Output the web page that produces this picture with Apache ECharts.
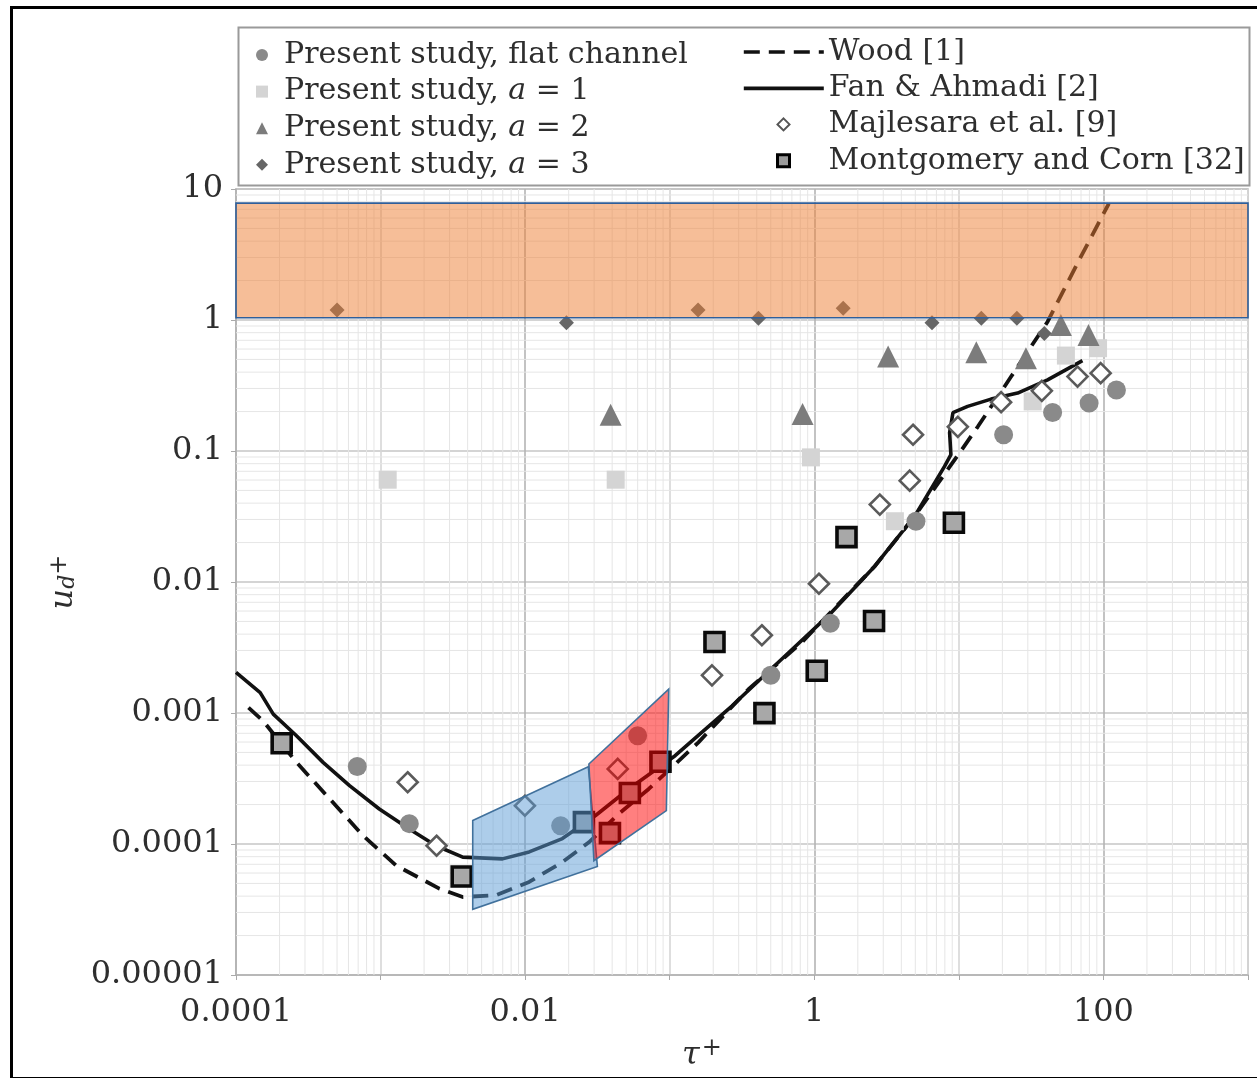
<!DOCTYPE html>
<html>
<head>
<meta charset="utf-8">
<script src="https://cdn.jsdelivr.net/npm/echarts@6.0.0/dist/echarts.min.js"></script>
<style>
html,body{margin:0;padding:0;background:#fff;}
#chart{width:1257px;height:1078px;}
</style>
</head>
<body>
<div id="chart"></div>
<script>
// ---------- data ----------
const xTickExps = [-4, -2, 0, 2];
const xTickLabels = ['0.0001', '0.01', '1', '100'];
const yTickExps = [-5, -4, -3, -2, -1, 0, 1];
const yTickLabels = ['0.00001', '0.0001', '0.001', '0.01', '0.1', '1', '10'];

const flatX = [6.9e-4, 1.58e-3, 0.0176, 0.060, 0.50, 1.29, 5.05, 20.4, 44.5, 79.6, 123];
const flatY = [3.9e-4, 1.43e-4, 1.38e-4, 6.7e-4, 1.94e-3, 4.84e-3, 0.0291, 0.133, 0.197, 0.232, 0.292];

const a1X = [1.12e-3, 0.0423, 0.948, 3.61, 32.4, 55, 91.8];
const a1Y = [0.0604, 0.0604, 0.0894, 0.0291, 0.239, 0.535, 0.609];

const a2X = [0.039, 0.83, 3.24, 13.2, 29.1, 50.8, 78.8];
const a2Y = [0.189, 0.192, 0.526, 0.568, 0.511, 0.916, 0.769];

const a3X = [5.0e-4, 0.0193, 0.157, 0.411, 1.585, 6.52, 14.3, 25.2, 39];
const a3Y = [1.19, 0.954, 1.19, 1.03, 1.23, 0.954, 1.03, 1.03, 0.79];

const majX = [1.54e-3, 2.44e-3, 9.96e-3, 0.0437, 0.196, 0.434, 1.077, 2.84, 4.57, 4.82, 9.84, 19.6, 37.5, 66.2, 95.7];
const majY = [2.96e-4, 9.7e-5, 1.96e-4, 3.74e-4, 1.94e-3, 3.92e-3, 9.7e-3, 0.039, 0.0594, 0.133, 0.153, 0.236, 0.288, 0.370, 0.393];

const montX = [2.07e-4, 3.64e-3, 0.0255, 0.0386, 0.053, 0.0863, 0.204, 0.452, 1.04, 1.67, 2.59, 9.24];
const montY = [5.87e-4, 5.65e-5, 1.47e-4, 1.21e-4, 2.45e-4, 4.25e-4, 3.48e-3, 9.98e-4, 2.1e-3, 0.022, 5.04e-3, 0.0283];

const fanX = [1e-4, 1.47e-4, 1.81e-4, 2.62e-4, 4.0e-4, 6.1e-4, 9.8e-4, 1.58e-3, 2.42e-3, 3.7e-3, 6.97e-3, 0.01066, 0.0181, 0.0307, 0.0521, 0.109, 0.269, 0.594, 1.315, 2.62, 4.95, 7.96, 8.81, 8.63, 9.1, 11.5, 16.7, 25.5, 41.1, 71.6];
const fanY = [2.04e-3, 1.43e-3, 9.8e-4, 6.7e-4, 4.2e-4, 2.79e-4, 1.85e-4, 1.3e-4, 9.7e-5, 7.94e-5, 7.7e-5, 8.7e-5, 1.1e-4, 1.65e-4, 2.63e-4, 4.72e-4, 1.13e-3, 2.57e-3, 5.84e-3, 0.0132, 0.0318, 0.0763, 0.0937, 0.138, 0.196, 0.219, 0.249, 0.277, 0.349, 0.490];

const woodX = [1.22e-4, 1.54e-4, 2.62e-4, 4.45e-4, 7.55e-4, 1.28e-3, 2.55e-3, 3.7e-3, 6.28e-3, 0.01066, 0.0181, 0.0276, 0.0445, 0.0716, 0.158, 0.351, 0.817, 2.62, 4.95, 10.1, 13.5, 23, 41.1, 69.7, 109];
const woodY = [1.1e-3, 8.7e-4, 4.2e-4, 2.21e-4, 1.16e-4, 6.86e-5, 4.56e-5, 3.94e-5, 4.06e-5, 5.13e-5, 7.28e-5, 1.03e-4, 1.7e-4, 2.63e-4, 5.97e-4, 1.52e-3, 3.45e-3, 0.0132, 0.0318, 0.0966, 0.153, 0.37, 0.97, 3.03, 7.74];

const bandX = [1e-4, 1000, 1000, 1e-4];
const bandY = [1.04, 1.04, 7.8, 7.8];
const blueX = [4.34e-3, 0.02735, 0.0316, 4.34e-3];
const blueY = [1.51e-4, 3.89e-4, 6.74e-5, 3.17e-5];
const redX = [0.0276, 0.0984, 0.0948, 0.0299];
const redY = [4.08e-4, 1.52e-3, 1.8e-4, 7.45e-5];

const xMin = 1e-4, xMax = 1000, yMin = 1e-5, yMax = 10;

// ---------- helpers ----------
const zip = (xs, ys) => xs.map((x, i) => [x, ys[i]]);
const SERIF = 'DejaVu Serif';
const TXT = '#2e2e2e';
const WOOD_DASH = [16, 9];

function polygonSeries(name, xs, ys, fill, stroke) {
  return {
    name: name, type: 'custom', silent: true, z: 10,
    data: zip(xs, ys),
    renderItem: function (params, api) {
      if (params.dataIndex !== 0) return;
      const pts = xs.map((x, i) => api.coord([x, ys[i]]));
      return { type: 'polygon', shape: { points: pts },
        style: { fill: fill, stroke: stroke, lineWidth: 1.6 } };
    }
  };
}

function minorGrid(params, api) {
  if (params.dataIndex !== 0) return;
  const children = [];
  const tl = api.coord([xMin, yMax]);
  const br = api.coord([xMax, yMin]);
  const st = { stroke: '#e6e6e6', lineWidth: 1 };
  for (let e = -4; e < 3; e++) {
    for (let k = 2; k <= 9; k++) {
      const p = api.coord([k * Math.pow(10, e), yMin]);
      children.push({ type: 'line', shape: { x1: p[0], y1: tl[1], x2: p[0], y2: br[1] }, style: st });
    }
  }
  for (let e = -5; e < 1; e++) {
    for (let k = 2; k <= 9; k++) {
      const p = api.coord([xMin, k * Math.pow(10, e)]);
      children.push({ type: 'line', shape: { x1: tl[0], y1: p[1], x2: br[0], y2: p[1] }, style: st });
    }
  }
  return { type: 'group', children: children, silent: true };
}

function expLabel(v, exps, labels) {
  const e = Math.round(Math.log10(v));
  const i = exps.indexOf(e);
  return i >= 0 ? labels[i] : '';
}

const chart = echarts.init(document.getElementById('chart'), null, { renderer: 'canvas' });

function legendText(padLeft) {
  return {
    fontFamily: SERIF, fontSize: 30, color: TXT, lineHeight: 36, padding: [0, 0, 0, padLeft],
    rich: { i: { fontFamily: SERIF, fontStyle: 'italic', fontSize: 30, color: TXT, lineHeight: 36 } }
  };
}

const option = {
  backgroundColor: '#ffffff',
  animation: false,
  grid: { left: 236, right: 9, top: 189, bottom: 103, show: true, borderColor: '#b4b4b4', borderWidth: 1.5, backgroundColor: 'transparent' },
  xAxis: {
    type: 'log', logBase: 10, min: xMin, max: xMax, splitNumber: 7,
    name: '{t|τ}{s|+}', nameLocation: 'middle', nameGap: 62,
    nameTextStyle: { padding: [0, 80, 0, 0], rich: {
      t: { fontFamily: SERIF, fontStyle: 'italic', fontSize: 32, color: TXT },
      s: { fontFamily: SERIF, fontSize: 24, color: TXT, verticalAlign: 'top', padding: [0, 0, 14, 2] } } },
    axisLine: { show: true, lineStyle: { color: '#b4b4b4', width: 1.5 } },
    axisTick: { show: true, length: 5, lineStyle: { color: '#aaa' } },
    axisLabel: { interval: 0, margin: 22, fontFamily: SERIF, fontSize: 32, color: TXT,
      formatter: v => expLabel(v, xTickExps, xTickLabels) },
    splitLine: { show: true, lineStyle: { color: ['#b4b4b4', '#d6d6d6'], width: 1.6 } },
    minorTick: { show: false }, minorSplitLine: { show: false }
  },
  yAxis: {
    type: 'log', logBase: 10, min: yMin, max: yMax, splitNumber: 6,
    name: '{u|u}{d|d}{s|+}', nameLocation: 'middle', nameGap: 154, nameRotate: 90,
    nameTextStyle: { rich: {
      u: { fontFamily: SERIF, fontStyle: 'italic', fontSize: 32, color: TXT },
      d: { fontFamily: SERIF, fontStyle: 'italic', fontSize: 22, color: TXT, verticalAlign: 'bottom' },
      s: { fontFamily: SERIF, fontSize: 24, color: TXT, verticalAlign: 'top' } } },
    axisLine: { show: true, lineStyle: { color: '#b4b4b4', width: 1.5 } },
    axisTick: { show: true, length: 5, lineStyle: { color: '#aaa' } },
    axisLabel: { interval: 0, margin: 13, fontFamily: SERIF, fontSize: 32, color: TXT,
      formatter: v => expLabel(v, yTickExps, yTickLabels) },
    splitLine: { show: true, lineStyle: { color: '#c6c6c6', width: 1.6 } },
    minorTick: { show: false }, minorSplitLine: { show: false }
  },
  legend: [
    {
      orient: 'vertical', left: 251, top: 32, itemWidth: 12, itemHeight: 12, itemGap: 0.6,
      textStyle: legendText(11),
      formatter: name => name.replace('a = ', '{i|a} = '),
      data: [
        { name: 'Present study, flat channel', icon: 'circle' },
        { name: 'Present study, a = 1', icon: 'rect' },
        { name: 'Present study, a = 2', icon: 'triangle' },
        { name: 'Present study, a = 3', icon: 'diamond', itemStyle: { color: '#666' } }
      ]
    },
    {
      orient: 'vertical', left: 737, top: 29, itemWidth: 80, itemHeight: 14, itemGap: 0.4,
      textStyle: legendText(0),
      lineStyle: { width: 3.6, color: '#111' },
      data: [
        { name: 'Wood [1]', itemStyle: { opacity: 0 }, lineStyle: { width: 3.6, type: WOOD_DASH, color: '#111' } },
        { name: 'Fan & Ahmadi [2]', itemStyle: { opacity: 0 }, lineStyle: { width: 3.6, type: 'solid', color: '#111' } }
      ]
    },
    {
      orient: 'vertical', left: 771, top: 101.4, itemWidth: 12, itemHeight: 12, itemGap: 0.4,
      textStyle: legendText(34),
      data: [
        { name: 'Majlesara et al. [9]', icon: 'diamond', itemStyle: { color: '#fff', borderColor: '#555', borderWidth: 2 } },
        { name: 'Montgomery and Corn [32]', icon: 'rect', itemStyle: { color: '#9a9a9a', borderColor: '#000', borderWidth: 3 } }
      ]
    }
  ],
  graphic: [
    { type: 'rect', left: 236, top: 25, shape: { width: 1011, height: 158 }, style: { fill: 'none', stroke: '#9a9a9a', lineWidth: 2 }, z: -1 },
    { type: 'rect', left: 9, top: 5, shape: { width: 1270, height: 1071 }, style: { fill: 'none', stroke: '#000', lineWidth: 3 }, z: 100 }
  ],
  series: [
    { name: '_minorGrid', type: 'custom', silent: true, z: 1, data: [[1, 1]], renderItem: minorGrid },
    { name: 'Wood [1]', type: 'line', z: 3, data: zip(woodX, woodY), symbol: 'none', showSymbol: false,
      lineStyle: { color: '#111', width: 3.8, type: WOOD_DASH }, itemStyle: { color: '#111' } },
    { name: 'Fan & Ahmadi [2]', type: 'line', z: 3, data: zip(fanX, fanY), symbol: 'none', showSymbol: false,
      lineStyle: { color: '#111', width: 3.6 }, itemStyle: { color: '#111' } },
    { name: 'Present study, flat channel', type: 'scatter', z: 4, data: zip(flatX, flatY), symbol: 'circle', symbolSize: 19,
      itemStyle: { color: '#8a8a8a', opacity: 1 } },
    { name: 'Present study, a = 1', type: 'scatter', z: 4, data: zip(a1X, a1Y), symbol: 'rect', symbolSize: 18,
      itemStyle: { color: '#d4d4d4', opacity: 1 } },
    { name: 'Present study, a = 2', type: 'scatter', z: 4, data: zip(a2X, a2Y), symbol: 'triangle', symbolSize: 22,
      itemStyle: { color: '#7c7c7c', opacity: 1 } },
    { name: 'Present study, a = 3', type: 'scatter', z: 4, data: zip(a3X, a3Y), symbol: 'diamond', symbolSize: 15,
      itemStyle: { color: '#666', opacity: 1 } },
    { name: 'Majlesara et al. [9]', type: 'scatter', z: 5, data: zip(majX, majY), symbol: 'diamond', symbolSize: 20,
      itemStyle: { color: '#fff', borderColor: '#5a5a5a', borderWidth: 2.6, opacity: 1 } },
    { name: 'Montgomery and Corn [32]', type: 'scatter', z: 5, data: zip(montX, montY), symbol: 'rect', symbolSize: 19,
      itemStyle: { color: '#a8a8a8', borderColor: '#0a0a0a', borderWidth: 3.6, opacity: 1 } },
    polygonSeries('_band', bandX, bandY, 'rgba(237,125,49,0.5)', '#2f5f9a'),
    polygonSeries('_blue', blueX, blueY, 'rgba(91,155,213,0.5)', '#41719c'),
    polygonSeries('_red', redX, redY, 'rgba(255,0,0,0.5)', '#41719c')
  ]
};
chart.setOption(option);
</script>
</body>
</html>
